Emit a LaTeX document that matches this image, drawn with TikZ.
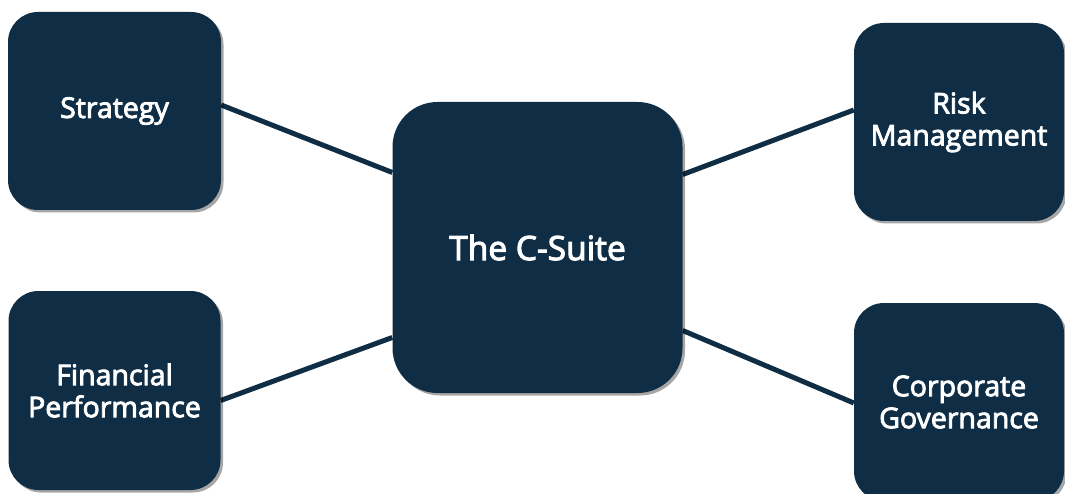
\documentclass[tikz,border=0pt]{standalone}
\usepackage{fontspec}
\setmainfont{Open Sans}[FakeBold=3]
\usetikzlibrary{shadows,backgrounds}
\definecolor{navy}{HTML}{0F2E45}
\tikzset{
  box/.style={draw=none, fill=navy, rounded corners=30pt, text=white, align=center,
    font=\fontsize{28.5}{32}\selectfont, inner sep=0pt,
    drop shadow={shadow xshift=2.5pt, shadow yshift=-2.5pt, opacity=0.35, fill=black}},
  link/.style={draw=navy, line width=5pt}
}
\begin{document}
\begin{tikzpicture}[x=1pt,y=-1pt]
\useasboundingbox (0,0) rectangle (1065,494);
\node[box, minimum width=213pt, minimum height=198pt] (s) at (114.5,111) {Strategy};
\node[box, minimum width=212pt, minimum height=199pt] (f) at (114.5,390.5) {Financial\\Performance};
\node[box, minimum width=290pt, minimum height=291pt, rounded corners=45pt, font=\fontsize{33.5}{38}\selectfont] (c) at (537.5,247.5) {The C-Suite};
\node[box, minimum width=210pt, minimum height=198pt] (r) at (959,122) {Risk\\Management};
\node[box, minimum width=210pt, minimum height=198pt] (g) at (959,402) {Corporate\\Governance};
\begin{pgfonlayer}{background}
\draw[link] ([yshift=6pt]s.east) -- ([yshift=75pt]c.west);
\draw[link] ([yshift=-10pt]f.east) -- ([yshift=-90pt]c.west);
\draw[link] ([yshift=73pt]c.east) -- ([yshift=12pt]r.west);
\draw[link] ([yshift=-83pt]c.east) -- ([yshift=-1pt]g.west);
\end{pgfonlayer}
\end{tikzpicture}
\end{document}
